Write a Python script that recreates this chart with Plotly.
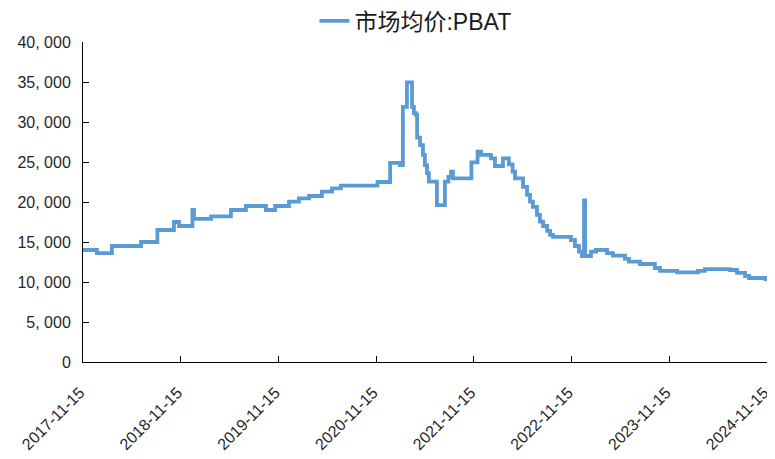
import plotly.graph_objects as go

# Weekly market average price of PBAT (yuan/ton)
dates = [
    "2017-11-15", "2018-01-06", "2018-03-03", "2018-06-20", "2018-08-20", "2018-10-21",
    "2018-11-09", "2018-12-29", "2019-01-04", "2019-03-09", "2019-05-22", "2019-07-17",
    "2019-09-30", "2019-11-03", "2019-12-25", "2020-01-31", "2020-03-09", "2020-04-26",
    "2020-06-03", "2020-07-06", "2020-11-20", "2021-01-06", "2021-02-12", "2021-02-23",
    "2021-03-10", "2021-03-29", "2021-04-05", "2021-04-13", "2021-04-17", "2021-04-28",
    "2021-05-09", "2021-05-16", "2021-05-24", "2021-05-31", "2021-06-30", "2021-07-30",
    "2021-08-12", "2021-08-22", "2021-08-29", "2021-11-06", "2021-11-29", "2021-12-12",
    "2022-01-18", "2022-02-02", "2022-03-04", "2022-03-26", "2022-04-09", "2022-04-18",
    "2022-05-18", "2022-06-02", "2022-06-13", "2022-06-24", "2022-07-09", "2022-07-20",
    "2022-08-01", "2022-08-16", "2022-08-27", "2022-09-07", "2022-11-13", "2022-11-28",
    "2022-12-13", "2022-12-24", "2023-01-01", "2023-01-05", "2023-01-27", "2023-02-15",
    "2023-03-28", "2023-04-19", "2023-06-03", "2023-06-18", "2023-07-29", "2023-09-23",
    "2023-10-12", "2023-12-15", "2024-03-02", "2024-03-28", "2024-06-30", "2024-07-26",
    "2024-08-25", "2024-09-09", "2024-11-08", "2024-11-15",
]
prices = [
    14000, 13600, 14500, 15000, 16500, 17500,
    17000, 19000, 17900, 18200, 19000, 19500,
    19000, 19500, 20050, 20450, 20750, 21300,
    21700, 22050, 22500, 24900, 24600, 31900,
    34950, 31900, 31100, 30900, 28050, 27100,
    25900, 24600, 23600, 22550, 19600, 22550,
    23150, 23800, 22950, 24950, 26300, 25900,
    25450, 24500, 25450, 24700, 23800, 22950,
    21900, 20900, 20050, 19400, 18400, 17550,
    17000, 16400, 15900, 15650, 15250, 14500,
    13800, 13250, 20200, 13250, 13800, 14000,
    13600, 13300, 12900, 12550, 12250, 11750,
    11400, 11200, 11400, 11600, 11500, 11150,
    10750, 10500, 10400, 10100,
]

series_name = "市场均价:PBAT"
x_tick_vals = ["2017-11-15", "2018-11-15", "2019-11-15", "2020-11-15",
               "2021-11-15", "2022-11-15", "2023-11-15", "2024-11-15"]
y_tick_vals = [0, 5000, 10000, 15000, 20000, 25000, 30000, 35000, 40000]
y_tick_text = ["0", "5, 000", "10, 000", "15, 000", "20, 000",
               "25, 000", "30, 000", "35, 000", "40, 000"]

fig = go.Figure()
fig.add_trace(go.Scatter(
    x=dates, y=prices, name=series_name, mode="lines",
    line=dict(color="#5B9BD5", width=3.8, shape="hv"),
    showlegend=True,
))

font_family = "Liberation Sans, Arial, Noto Sans CJK SC, sans-serif"

# The page body has an 8px default margin, so the figure is 8px smaller
fig.update_layout(
    width=767, height=451,
    margin=dict(l=75, r=8, t=34, b=97, autoexpand=False),
    paper_bgcolor="white", plot_bgcolor="white",
    font=dict(family=font_family, size=16, color="#262626"),
    showlegend=True,
    legend=dict(
        orientation="h", x=0.486, xanchor="center", y=1.066, yanchor="middle",
        font=dict(family="Liberation Sans, Noto Sans CJK SC, sans-serif", size=23, color="#1a1a1a"),
        bgcolor="rgba(0,0,0,0)",
    ),
    xaxis=dict(
        type="date",
        range=["2017-11-15", "2024-11-15"],
        tickmode="array", tickvals=x_tick_vals, ticktext=x_tick_vals,
        tickangle=-45,
        ticks="inside", ticklen=6, tickcolor="black",
        showline=True, linecolor="black", linewidth=1,
        showgrid=False, zeroline=False, automargin=False,
        ticklabelstandoff=14, ticklabelshift=-3,
        tickfont=dict(size=16, color="#262626"),
    ),
    yaxis=dict(
        range=[0, 40000],
        tickmode="array", tickvals=y_tick_vals, ticktext=y_tick_text,
        ticks="inside", ticklen=6, tickcolor="black",
        showline=True, linecolor="black", linewidth=1,
        showgrid=False, zeroline=False, automargin=False,
        ticklabelstandoff=8,
        tickfont=dict(size=16, color="#262626"),
    ),
)

fig.write_html("out.html")
